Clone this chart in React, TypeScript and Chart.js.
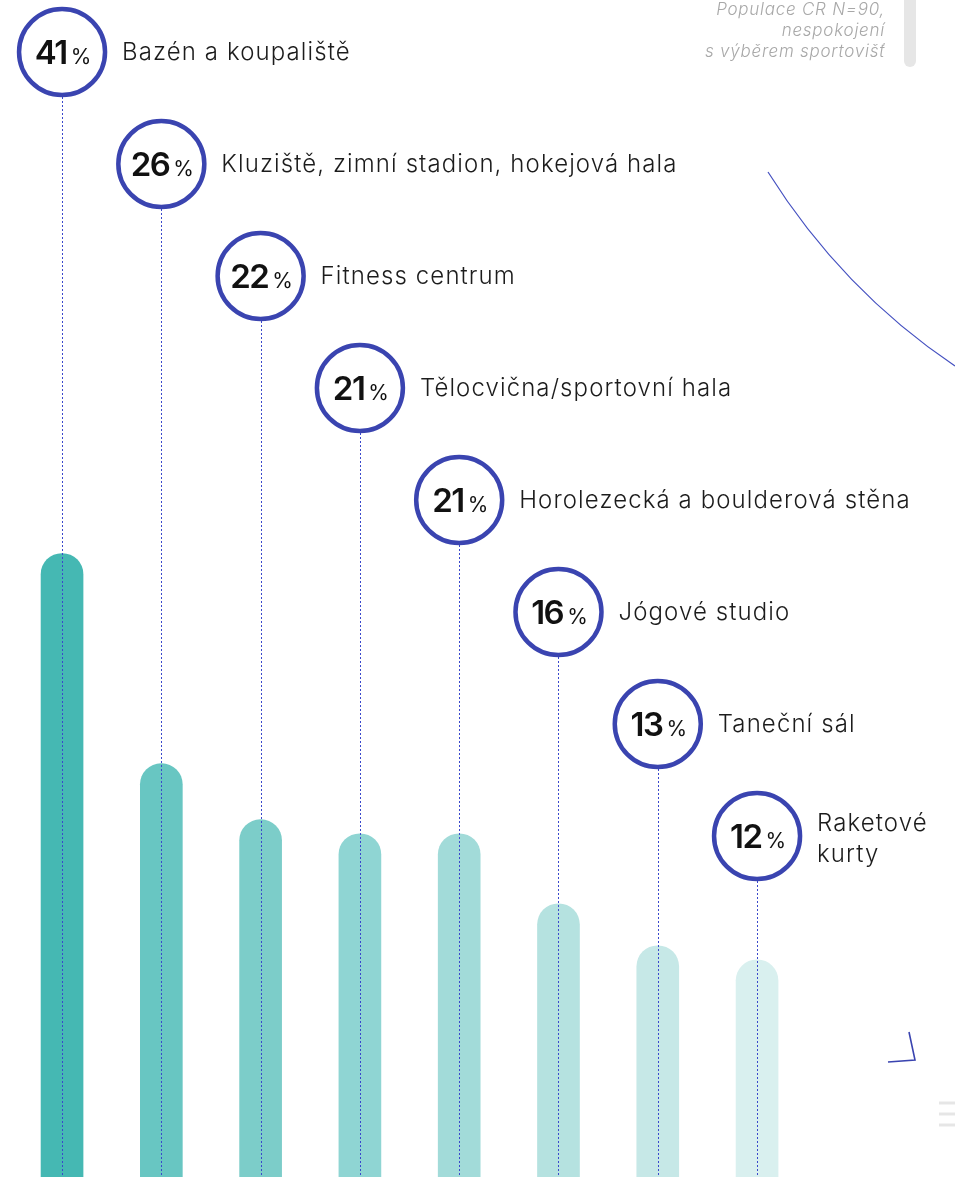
import React, { useEffect, useRef } from "react";
import { Chart, registerables } from "chart.js";

Chart.register(...registerables);

const categories = [
  ["Bazén a koupaliště"],
  ["Kluziště, zimní stadion, hokejová hala"],
  ["Fitness centrum"],
  ["Tělocvična/sportovní hala"],
  ["Horolezecká a boulderová stěna"],
  ["Jógové studio"],
  ["Taneční sál"],
  ["Raketové", "kurty"],
];
const values = [41, 26, 22, 21, 21, 16, 13, 12];
const barColors = [
  "#45b8b3",
  "#68c6c2",
  "#7ccdc9",
  "#8fd5d3",
  "#a2dbd9",
  "#b5e2e0",
  "#c6e8e7",
  "#d9f0ef",
];
const noteLines = ["Populace CR N=90,", "nespokojení", "s výběrem sportovišť"];

const BLUE = "#3a44b0";

const overlayPlugin = {
  id: "overlay",
  afterDatasetsDraw(chart: any) {
    const ctx = chart.ctx as CanvasRenderingContext2D;
    const xs = chart.scales.x;
    const H = chart.height;
    const W = chart.width;
    ctx.save();
    values.forEach((v, i) => {
      const cx = xs.getPixelForValue(i);
      const cy = 52 + i * 112;
      const r = 43;
      // dotted line
      ctx.beginPath();
      ctx.setLineDash([2, 2]);
      ctx.strokeStyle = "#3a48cc";
      ctx.lineWidth = 1;
      ctx.moveTo(Math.round(cx) + 0.5, cy + r + 2);
      ctx.lineTo(Math.round(cx) + 0.5, H);
      ctx.stroke();
      ctx.setLineDash([]);
      // circle
      ctx.beginPath();
      ctx.arc(cx, cy, r, 0, Math.PI * 2);
      ctx.fillStyle = "#ffffff";
      ctx.fill();
      ctx.lineWidth = 4.5;
      ctx.strokeStyle = BLUE;
      ctx.stroke();
      // number
      const num = String(v);
      ctx.font = "600 33px Inter, Roboto, sans-serif";
      (ctx as any).letterSpacing = "-1.5px";
      const wNum = ctx.measureText(num).width;
      ctx.font = "400 21px Inter, Roboto, sans-serif";
      (ctx as any).letterSpacing = "0px";
      const wPct = ctx.measureText("%").width;
      const gap = 4;
      const total = wNum + gap + wPct;
      const startX = cx - total / 2 + 1;
      ctx.fillStyle = "#111111";
      ctx.textBaseline = "alphabetic";
      ctx.textAlign = "left";
      ctx.font = "600 33px Inter, Roboto, sans-serif";
      (ctx as any).letterSpacing = "-1.5px";
      ctx.fillText(num, startX, cy + 12);
      ctx.font = "400 21px Inter, Roboto, sans-serif";
      (ctx as any).letterSpacing = "0px";
      ctx.fillText("%", startX + wNum + gap, cy + 12);
      // label
      const lines = categories[i];
      ctx.font = "300 24px Inter, Lato, sans-serif";
      (ctx as any).letterSpacing = "1.1px";
      ctx.fillStyle = "#1c1c1c";
      if (lines.length === 1) {
        ctx.fillText(lines[0], cx + 60, cy + 8);
      } else {
        ctx.fillText(lines[0], cx + 60, cy - 5);
        ctx.fillText(lines[1], cx + 60, cy + 26);
      }
      (ctx as any).letterSpacing = "0px";
    });

    // note top right
    ctx.font = "italic 300 17px Inter, Lato, sans-serif";
    (ctx as any).letterSpacing = "0.75px";
    ctx.fillStyle = "#a8a8a8";
    ctx.textAlign = "right";
    noteLines.forEach((t, k) => {
      ctx.fillText(t, 885, 15 + k * 21);
    });
    (ctx as any).letterSpacing = "0px";
    // grey bar
    ctx.fillStyle = "#e6e6e6";
    ctx.beginPath();
    ctx.moveTo(904, 0);
    ctx.lineTo(916, 0);
    ctx.lineTo(916, 61);
    ctx.arc(910, 61, 6, 0, Math.PI);
    ctx.closePath();
    ctx.fill();

    // arc decoration
    ctx.beginPath();
    ctx.strokeStyle = "#4450c0";
    ctx.lineWidth = 1.2;
    ctx.moveTo(768, 172);
    ctx.quadraticCurveTo(842, 290, W, 366);
    ctx.stroke();

    // corner mark
    ctx.beginPath();
    ctx.lineWidth = 1.6;
    ctx.strokeStyle = BLUE;
    ctx.moveTo(909, 1032);
    ctx.lineTo(915, 1060);
    ctx.lineTo(888, 1062);
    ctx.stroke();

    // grey dashes
    ctx.strokeStyle = "#e6e6e6";
    ctx.lineWidth = 3;
    [1103, 1114, 1125].forEach((y) => {
      ctx.beginPath();
      ctx.moveTo(939, y);
      ctx.lineTo(W, y);
      ctx.stroke();
    });
    ctx.restore();
  },
};

export default function App() {
  const ref = useRef<HTMLCanvasElement | null>(null);
  useEffect(() => {
    document.body.style.margin = "0";
    const canvas = ref.current!;
    const chart = new Chart(canvas, {
      type: "bar",
      data: {
        labels: categories.map((c) => c.join(" ")),
        datasets: [
          {
            data: values,
            backgroundColor: barColors,
            borderWidth: 0,
            borderRadius: 21,
            borderSkipped: "start",
            barThickness: 42,
            base: -3.5,
          } as any,
        ],
      },
      options: {
        responsive: false,
        animation: false,
        maintainAspectRatio: false,
        layout: { padding: { left: 12.4, right: 148.3, top: 0, bottom: 0 } },
        plugins: { legend: { display: false }, tooltip: { enabled: false } },
        scales: {
          x: { display: false },
          y: { display: false, min: -3.5, max: 80.5 },
        },
      },
      plugins: [overlayPlugin],
    });
    return () => chart.destroy();
  }, []);
  return (
    <div style={{ width: 955, height: 1177, background: "#fff" }}>
      <canvas ref={ref} width={955} height={1177} style={{ display: "block" }} />
    </div>
  );
}
